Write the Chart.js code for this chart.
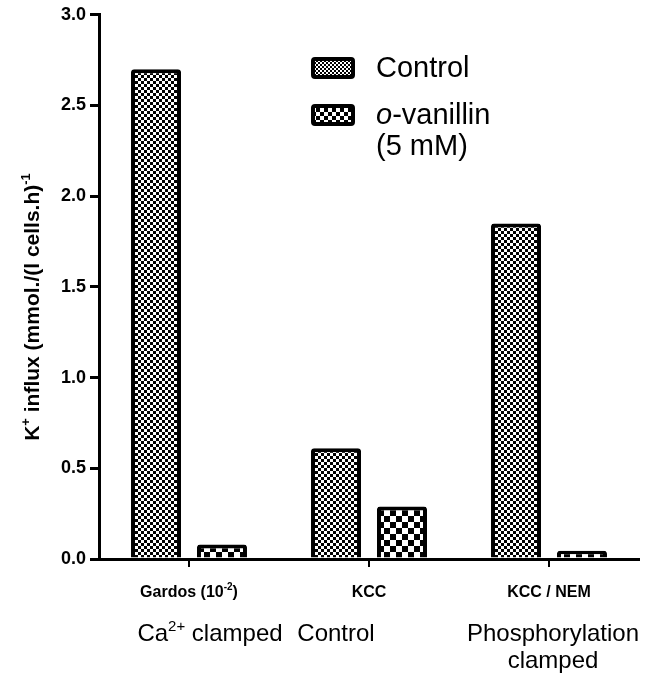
<!DOCTYPE html>
<html>
<head>
<meta charset="utf-8">
<script src="https://cdn.jsdelivr.net/npm/chart.js@4/dist/chart.umd.min.js"></script>
<style>
  html, body { margin: 0; padding: 0; background: #fff; }
</style>
</head>
<body>
<canvas id="chart" width="658" height="673"></canvas>
<script>
// data
const categories = ['Gardos (10^{-2})', 'KCC', 'KCC / NEM'];
const groupLabels = ['Ca^{2+} clamped', 'Control', 'Phosphorylation|clamped'];
const controlValues = [2.70, 0.61, 1.85];
const vanillinValues = [0.08, 0.29, 0.045];
const seriesNames = ['Control', 'o-vanillin', '(5 mM)'];
const yTitle = 'K^{+} influx (mmol./(l cells.h)^{-1}';

const FONT = "'Liberation Sans', Arial, Helvetica, sans-serif";
// the lower labels were placed by hand in the figure, not quite on the ticks
const groupShift = [21, -33, 4];

function checker(cell) {
    const c = document.createElement('canvas');
    c.width = c.height = cell * 2;
    const g = c.getContext('2d');
    g.fillStyle = '#fff';
    g.fillRect(0, 0, cell * 2, cell * 2);
    g.fillStyle = '#000';
    g.fillRect(0, 0, cell, cell);
    g.fillRect(cell, cell, cell, cell);
    return g.createPattern(c, 'repeat');
}

// text with ^{...} superscripts, centred on cx
function drawRich(ctx, text, cx, y, weight, size) {
    const parts = text.split(/(\^\{[^}]*\})/).filter(s => s.length);
    const segs = parts.map(p => {
        const sup = p.startsWith('^{');
        return { t: sup ? p.slice(2, -1) : p, sup: sup };
    });
    let total = 0;
    segs.forEach(s => {
        ctx.font = weight + ' ' + (s.sup ? Math.round(size * 0.62) : size) + 'px ' + FONT;
        s.w = ctx.measureText(s.t).width;
        total += s.w;
    });
    let x = cx - total / 2;
    ctx.textAlign = 'left';
    ctx.textBaseline = 'alphabetic';
    segs.forEach(s => {
        ctx.font = weight + ' ' + (s.sup ? Math.round(size * 0.62) : size) + 'px ' + FONT;
        ctx.fillText(s.t, x, s.sup ? y - size * 0.42 : y);
        x += s.w;
    });
}

const annotate = {
    id: 'annotate',
    afterDraw(chart) {
        const ctx = chart.ctx;
        const xs = chart.scales.x;
        ctx.save();
        ctx.fillStyle = '#000';

        categories.forEach((lab, i) => {
            const cx = xs.getPixelForValue(i);
            drawRich(ctx, lab, cx, 597, 'bold', 16);
            groupLabels[i].split('|').forEach((line, j) => {
                drawRich(ctx, line, cx + groupShift[i], 641 + j * 27, 'normal', 24);
            });
        });

        // y axis title
        ctx.save();
        ctx.translate(39, 307);
        ctx.rotate(-Math.PI / 2);
        drawRich(ctx, yTitle, 0, 0, 'bold', 21);
        ctx.restore();

        // legend
        const boxes = [
            { y: 57, fill: checker(2) },
            { y: 104, fill: checker(4) }
        ];
        boxes.forEach(b => {
            ctx.beginPath();
            ctx.roundRect(313, b.y + 2, 40, 18, 2);
            ctx.fillStyle = b.fill;
            ctx.fill();
            ctx.lineWidth = 4;
            ctx.strokeStyle = '#000';
            ctx.stroke();
        });
        ctx.fillStyle = '#000';
        ctx.textAlign = 'left';
        ctx.textBaseline = 'alphabetic';
        ctx.font = '29px ' + FONT;
        ctx.fillText(seriesNames[0], 376, 77);
        ctx.font = 'italic 29px ' + FONT;
        ctx.fillText(seriesNames[1].slice(0, 1), 376, 124);
        const ow = ctx.measureText(seriesNames[1].slice(0, 1)).width;
        ctx.font = '29px ' + FONT;
        ctx.fillText(seriesNames[1].slice(1), 376 + ow, 124);
        ctx.fillText(seriesNames[2], 376, 155);
        ctx.restore();
    }
};

new Chart(document.getElementById('chart'), {
    type: 'bar',
    data: {
        labels: categories,
        datasets: [
            {
                label: seriesNames[0],
                data: controlValues,
                backgroundColor: checker(3),
                borderColor: '#000',
                borderWidth: 4,
                borderRadius: 3,
                borderSkipped: 'bottom'
            },
            {
                label: seriesNames[1],
                data: vanillinValues,
                backgroundColor: checker(6),
                borderColor: '#000',
                borderWidth: 4,
                borderRadius: 3,
                borderSkipped: 'bottom'
            }
        ]
    },
    options: {
        responsive: false,
        animation: false,
        categoryPercentage: 0.733,
        barPercentage: 0.758,
        layout: { padding: { top: 13, right: 19, left: 0, bottom: 0 } },
        scales: {
            x: {
                grid: {
                    offset: false,
                    drawOnChartArea: false,
                    drawTicks: true,
                    tickLength: 8,
                    lineWidth: 2,
                    color: '#000'
                },
                border: { color: '#000', width: 3 },
                ticks: { display: false },
                afterFit(s) { s.height = 114; }
            },
            y: {
                min: 0,
                max: 3,
                grid: {
                    drawOnChartArea: false,
                    drawTicks: true,
                    tickLength: 9,
                    lineWidth: 3,
                    color: '#000'
                },
                border: { color: '#000', width: 3 },
                ticks: {
                    stepSize: 0.5,
                    padding: 4,
                    color: '#000',
                    font: { family: FONT, size: 18, weight: 'bold' },
                    callback: (v) => v.toFixed(1)
                },
                afterFit(s) { s.width = 99; }
            }
        },
        plugins: {
            legend: { display: false },
            title: { display: false },
            tooltip: { enabled: false }
        }
    },
    plugins: [annotate]
});
</script>
</body>
</html>
